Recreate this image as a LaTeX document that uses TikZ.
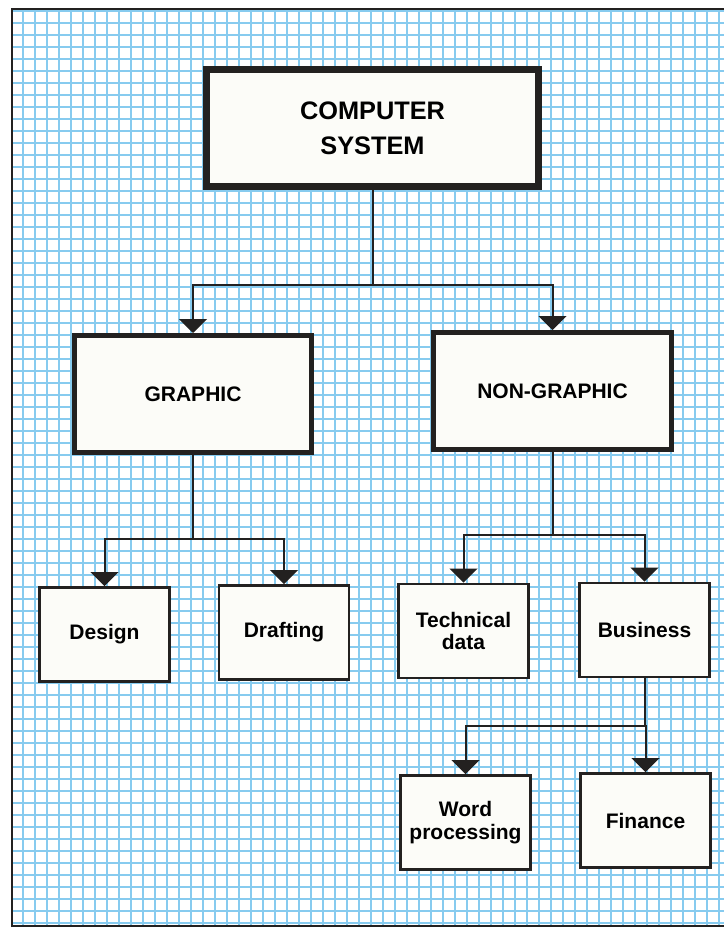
\documentclass[tikz,border=0pt]{standalone}
\usepackage{fontspec}
\setmainfont{Liberation Sans}
\usetikzlibrary{arrows.meta}
\definecolor{gridblue}{RGB}{135,203,239}
\definecolor{ink}{RGB}{35,33,32}
\definecolor{boxfill}{RGB}{252,252,248}

\begin{document}
\begin{tikzpicture}[x=0.75pt, y=-0.75pt,
        gridline/.style = {gridblue, line width=0.8pt},
        link/.style = {ink, line width=1.5pt},
        arrow/.style = {link, -{Triangle[width=21pt, length=10.5pt]}},
        topbox/.style = {draw=ink, fill=boxfill, line width=5.25pt, align=center,
            minimum width=249pt, minimum height=87.75pt,
            font=\fontsize{19}{26}\selectfont\bfseries},
        midbox/.style = {draw=ink, fill=boxfill, line width=3.75pt, align=center,
            minimum width=178pt, minimum height=87.75pt,
            font=\fontsize{15.75}{17}\selectfont\bfseries},
        leafbox/.style = {draw=ink, fill=boxfill, line width=2.2pt, align=center,
            minimum width=97.5pt, minimum height=70.5pt,
            font=\fontsize{15.75}{17}\selectfont\bfseries}]

    \useasboundingbox (0,0) rectangle (724,928);
    \fill[white] (0,0) rectangle (724,928);

    % Graph paper:
    \foreach \k in {1,...,59}
        \draw[gridline] (11+12*\k, 9) -- (11+12*\k, 926);
    \foreach \k in {0,...,76}
        \draw[gridline] (12, 11+12*\k) -- (724, 11+12*\k);

    % Frame:
    \draw[ink, line width=2.2pt] (12,927) -- (12,9);
    \draw[ink, line width=1.2pt] (11,9) -- (724,9);
    \draw[ink, line width=1.2pt] (11,926) -- (724,926);

    % Boxes:
    \node[topbox] (system) at (372.5,128) {COMPUTER\\SYSTEM};
    \node[midbox] (graphic) at (193,394) {GRAPHIC};
    \node[midbox] (nongraphic) at (552.5,391) {NON-GRAPHIC};
    \node[leafbox] (design) at (104.5,634.5) {Design};
    \node[leafbox] (drafting) at (284,632.5) {Drafting};
    \node[leafbox] (technical) at (463.5,631) {Technical\\data};
    \node[leafbox] (business) at (644.5,630) {Business};
    \node[leafbox] (wordproc) at (465.5,822.5) {Word\\processing};
    \node[leafbox] (finance) at (645.5,820.5) {Finance};

    % Connectors:
    \coordinate (sysfork) at (372.5,285);
    \coordinate (graphfork) at (193,539);
    \coordinate (nongraphfork) at (552.5,535);
    \coordinate (busfork) at (644.5,726);

    \draw[link] (system) -- (sysfork);
    \draw[arrow] (sysfork) -| (graphic.north);
    \draw[arrow] (sysfork) -| (nongraphic.north);

    \draw[link] (graphic) -- (graphfork);
    \draw[arrow] (graphfork) -| (design.north);
    \draw[arrow] (graphfork) -| (drafting.north);

    \draw[link] (nongraphic) -- (nongraphfork);
    \draw[arrow] (nongraphfork) -| (technical.north);
    \draw[arrow] (nongraphfork) -| (business.north);

    \draw[link] (business) -- (busfork);
    \draw[arrow] (busfork) -| (wordproc.north);
    \draw[arrow] (busfork) -| (finance.north);
\end{tikzpicture}
\end{document}
